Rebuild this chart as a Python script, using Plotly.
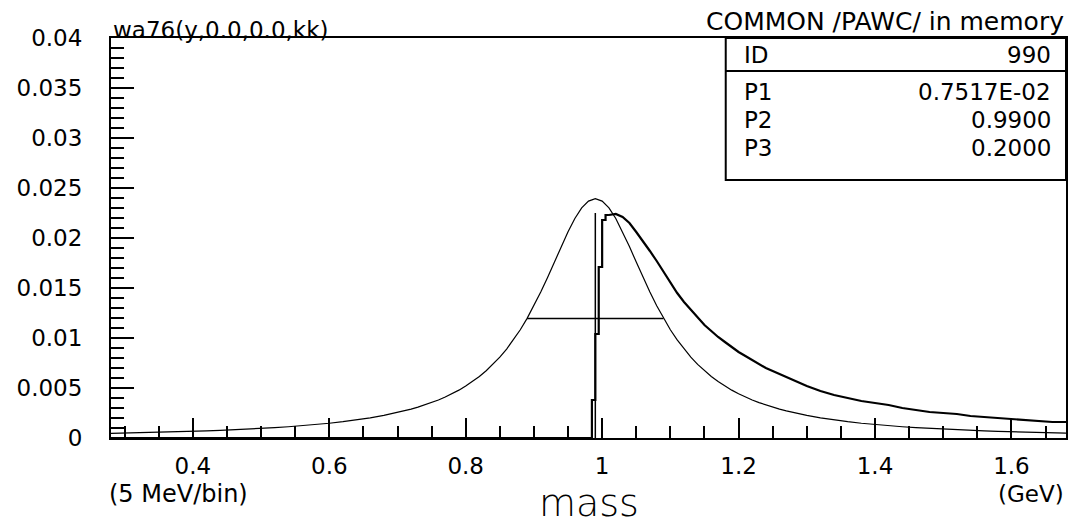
import plotly.graph_objects as go

# thin curve: Breit-Wigner shape (GeV, entries per 5 MeV bin)
THIN_X = [
    0.28, 0.30, 0.32, 0.34, 0.36, 0.38, 0.40, 0.42, 0.44, 0.46, 0.48,
    0.50, 0.52, 0.54, 0.56, 0.58, 0.60, 0.62, 0.64, 0.66, 0.68, 0.70,
    0.71, 0.72, 0.73, 0.74, 0.75, 0.76, 0.77, 0.78, 0.79, 0.80,
    0.81, 0.82, 0.83, 0.84, 0.85, 0.86, 0.87, 0.88, 0.89, 0.90,
    0.91, 0.92, 0.93, 0.94, 0.95, 0.96, 0.97, 0.98, 0.99, 1.00,
    1.01, 1.02, 1.03, 1.04, 1.05, 1.06, 1.07, 1.08, 1.09, 1.10,
    1.11, 1.12, 1.13, 1.14, 1.15, 1.16, 1.17, 1.18, 1.19, 1.20,
    1.21, 1.22, 1.23, 1.24, 1.25, 1.26, 1.27, 1.28,
    1.30, 1.32, 1.34, 1.36, 1.38, 1.40, 1.42, 1.44, 1.46, 1.48,
    1.50, 1.52, 1.54, 1.56, 1.58, 1.60, 1.62, 1.64, 1.66, 1.68,
]
THIN_Y = [
    0.000465, 0.000492, 0.000521, 0.000553, 0.000588, 0.000626, 0.000668, 0.000714,
    0.000766, 0.000823, 0.000886, 0.000957, 0.001036, 0.001126, 0.001228, 0.001343,
    0.001476, 0.001629, 0.001806, 0.002012, 0.002255, 0.002543,
    0.002707, 0.002886, 0.003083, 0.003300, 0.003540, 0.003804, 0.004097, 0.004423,
    0.004785, 0.005190, 0.005643, 0.006151, 0.006721, 0.007362, 0.008083, 0.008895,
    0.009806, 0.010827, 0.011964, 0.013219, 0.014590, 0.016058, 0.017593, 0.019142,
    0.020627, 0.021951, 0.023007, 0.023690, 0.023927, 0.023690,
    0.023007, 0.021951, 0.020627, 0.019142, 0.017593, 0.016058, 0.014590, 0.013219,
    0.011964, 0.010827, 0.009806, 0.008895, 0.008083, 0.007362, 0.006721, 0.006151,
    0.005643, 0.005190, 0.004785, 0.004423, 0.004097, 0.003804, 0.003540, 0.003300,
    0.003083, 0.002886, 0.002707, 0.002543,
    0.002255, 0.002012, 0.001806, 0.001629, 0.001476, 0.001343, 0.001228, 0.001126,
    0.001036, 0.000957, 0.000886, 0.000823, 0.000766, 0.000714, 0.000668, 0.000626,
    0.000588, 0.000553, 0.000521, 0.000492,
]

# thick histogram: threshold bins (left edges, 5 MeV) then the smooth tail
THICK_EDGES = [0.28, 0.985, 0.99, 0.995, 1.0, 1.005]
THICK_STEPS = [0.0, 0.0038, 0.0104, 0.0171, 0.0218, 0.0223]
THICK_TAIL_X = [
    1.01, 1.02, 1.03, 1.04, 1.05, 1.06, 1.07, 1.08, 1.09, 1.10,
    1.11, 1.12, 1.13, 1.14, 1.15, 1.16, 1.17, 1.18, 1.19, 1.20,
    1.21, 1.22, 1.23, 1.24, 1.25, 1.26, 1.27, 1.28,
    1.30, 1.32, 1.34, 1.36, 1.38, 1.40, 1.42, 1.44, 1.46, 1.48,
    1.50, 1.52, 1.54, 1.56, 1.58, 1.60, 1.62, 1.64, 1.66, 1.68,
]
THICK_TAIL_Y = [
    0.0223, 0.0224, 0.0221, 0.0215, 0.0206, 0.0197, 0.0187, 0.0177, 0.0166, 0.0155,
    0.0145, 0.0136, 0.0128, 0.0120, 0.0113, 0.0107, 0.0101, 0.0096, 0.0091, 0.0086,
    0.0082, 0.0078, 0.0074, 0.0070, 0.0067, 0.0064, 0.0061, 0.0058,
    0.0052, 0.0047, 0.0043, 0.0040, 0.0037, 0.0035, 0.0033, 0.0030, 0.0028, 0.0026,
    0.0025, 0.0024, 0.0022, 0.0021, 0.0020, 0.0019, 0.0018, 0.0017, 0.0016, 0.0016,
]

# vertical marker at the nominal mass and the FWHM bar of the thin curve
MASS_LINE_X = [0.99, 0.99]
MASS_LINE_Y = [0.0, 0.0225]
FWHM_X = [0.89, 1.09]
FWHM_Y = [0.01196, 0.01196]

STAT_LABELS = ["ID", "P1", "P2", "P3"]
STAT_VALUES = ["990", "0.7517E-02", "0.9900", "0.2000"]

FONT = "DejaVu Sans"

fig = go.Figure()
fig.add_trace(go.Scatter(x=THIN_X, y=THIN_Y, mode="lines",
                         line=dict(color="black", width=1.2)))
fig.add_trace(go.Scatter(x=THICK_EDGES + [THICK_TAIL_X[0]], y=THICK_STEPS + [THICK_TAIL_Y[0]],
                         mode="lines", line=dict(color="black", width=2.2, shape="hv")))
fig.add_trace(go.Scatter(x=THICK_TAIL_X, y=THICK_TAIL_Y, mode="lines",
                         line=dict(color="black", width=2.2)))
fig.add_trace(go.Scatter(x=MASS_LINE_X, y=MASS_LINE_Y, mode="lines",
                         line=dict(color="black", width=1.5)))
fig.add_trace(go.Scatter(x=FWHM_X, y=FWHM_Y, mode="lines",
                         line=dict(color="black", width=1.5)))

axis_common = dict(
    showline=True, linecolor="black", linewidth=2, mirror=True,
    showgrid=False, zeroline=False, ticks="inside", tickcolor="black", tickwidth=2,
    tickfont=dict(family=FONT, size=23, color="black"),
)
fig.update_xaxes(
    range=[0.28, 1.68], tick0=0, dtick=0.2, ticklen=20, ticklabelstandoff=6,
    minor=dict(dtick=0.05, ticks="inside", ticklen=12, tickwidth=2, tickcolor="black"),
    **axis_common,
)
fig.update_yaxes(
    range=[0, 0.04], tick0=0, dtick=0.005, ticklen=23, ticklabelstandoff=22,
    minor=dict(dtick=0.001, ticks="inside", ticklen=13, tickwidth=2, tickcolor="black"),
    **axis_common,
)

# statistics box in the upper right corner
box_x0 = 0.6437
fig.add_shape(type="rect", xref="paper", yref="paper", x0=box_x0, x1=1, y0=0.645, y1=1,
              line=dict(color="black", width=2))
fig.add_shape(type="line", xref="paper", yref="paper", x0=box_x0, x1=1, y0=0.9175, y1=0.9175,
              line=dict(color="black", width=2))
row_y = [0.9575, 0.866, 0.795, 0.725]
annotations = []
for label, value, ry in zip(STAT_LABELS, STAT_VALUES, row_y):
    annotations.append(dict(text=label, x=0.6604, y=ry, xanchor="left", yanchor="middle",
                            font=dict(family=FONT, size=23, color="black")))
    annotations.append(dict(text=value, x=0.9865, y=ry, xanchor="right", yanchor="middle",
                            font=dict(family=FONT, size=23, color="black")))

annotations += [
    dict(text="wa76(y,0.0,0.0,kk)", x=0, y=1, xanchor="left", yanchor="bottom", yshift=-7,
         font=dict(family=FONT, size=23, color="black")),
    dict(text="COMMON /PAWC/ in memory", x=1.0, y=1.04, xanchor="right", yanchor="middle",
         font=dict(family=FONT, size=25, color="black")),
    dict(text="(5 MeV/bin)", x=-0.004, y=-0.14, xanchor="left", yanchor="middle",
         font=dict(family=FONT, size=24, color="black")),
    dict(text="(GeV)", x=1.0, y=-0.14, xanchor="right", yanchor="middle",
         font=dict(family=FONT, size=23, color="black")),
    dict(text="mass", x=0.5, y=-0.162, xanchor="center", yanchor="middle",
         font=dict(family=FONT, size=38, color="black", weight=200)),
]
for a in annotations:
    a.update(xref="paper", yref="paper", showarrow=False)

# the page body adds an 8px margin, so the figure is 8px smaller than the window
fig.update_layout(
    width=1068, height=519,
    margin=dict(l=103, r=8, t=30, b=89),
    paper_bgcolor="white", plot_bgcolor="white",
    showlegend=False,
    annotations=annotations,
)

fig.write_html("out.html")
